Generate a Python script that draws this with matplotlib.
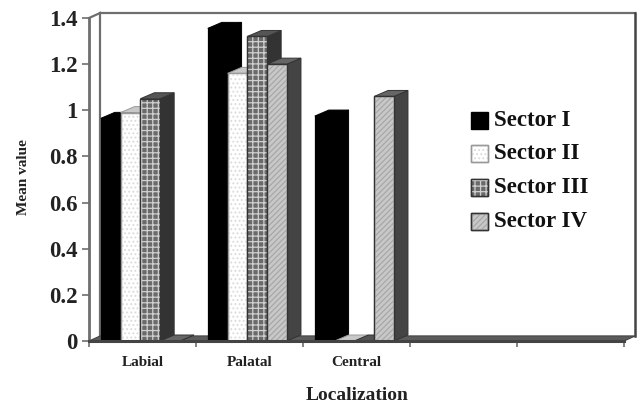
"""
Mean value per localization and sector, drawn as pseudo-3D clustered bars
"""

import matplotlib
matplotlib.use('Agg')
import matplotlib.pyplot as plt
from matplotlib.patches import Polygon, Rectangle

categories = ['Labial', 'Palatal', 'Central', '', '']
sectors = ['Sector I', 'Sector II', 'Sector III', 'Sector IV']
sector_1 = [0.965, 1.355, 0.975, 0, 0]
sector_2 = [0.99, 1.16, 0, 0, 0]
sector_3 = [1.05, 1.32, 0, 0, 0]
sector_4 = [0, 1.20, 1.06, 0, 0]
y_ticks = [0, 0.2, 0.4, 0.6, 0.8, 1, 1.2, 1.4]
y_tick_labels = ['0', '0.2', '0.4', '0.6', '0.8', '1', '1.2', '1.4']

GRAY = '#6e6e6e'
FRONT = ['black', 'white', '#6a6a6a', '#c8c8c8']
SIDE = ['black', '#8c8c8c', '#333333', '#444444']
TOP = ['black', '#c8c8c8', '#555555', '#666666']
HATCH = [None, '....', '+++', '//////']
HATCH_COLOR = ['black', '#dcdcdc', '#d0d0d0', '#a8a8a8']
EDGE = ['black', '#999999', '#333333', '#333333']

# depth of the bars and of the surrounding box, in data units
DX = 0.131
DY = 0.026
WALL_DX = 0.105
WALL_DY = 0.022
BAR_W = 0.185
GROUP_PAD = 0.11


def draw_bar(ax, x, value, i, zorder):
    ax.add_patch(Polygon([(x + BAR_W, 0), (x + BAR_W + DX, DY),
                          (x + BAR_W + DX, value + DY), (x + BAR_W, value)],
                         closed=True, fc=SIDE[i], ec=EDGE[i], lw=0.7, zorder=zorder))
    ax.add_patch(Polygon([(x, value), (x + DX, value + DY),
                          (x + BAR_W + DX, value + DY), (x + BAR_W, value)],
                         closed=True, fc=TOP[i], ec=EDGE[i], lw=0.7, zorder=zorder))
    ax.add_patch(Rectangle((x, 0), BAR_W, value, fc=FRONT[i], ec=EDGE[i], lw=0.9, zorder=zorder))
    if HATCH[i] and value > 0:
        ax.add_patch(Rectangle((x, 0), BAR_W, value, fc='none', ec=HATCH_COLOR[i],
                               hatch=HATCH[i], lw=0, zorder=zorder))
        ax.add_patch(Rectangle((x, 0), BAR_W, value, fc='none', ec=EDGE[i], lw=0.9, zorder=zorder))


plt.rcParams['font.family'] = ['Liberation Serif', 'DejaVu Serif']
plt.rcParams['hatch.linewidth'] = 0.9

fig = plt.figure(figsize=(6.4, 4.09), dpi=100)
# front plane of the chart box
ax = fig.add_axes([89 / 640, 1 - 341 / 409, (624 - 89) / 640, (341 - 18) / 409])
ax.set_xlim(0, 5)
ax.set_ylim(0, 1.4)
for s in ax.spines.values():
    s.set_visible(False)
ax.patch.set_visible(False)

# back wall and filled floor of the box
box = dict(color=GRAY, lw=1.6, clip_on=False, zorder=1)
ax.plot([WALL_DX, WALL_DX], [WALL_DY, 1.4 + WALL_DY], **box)
ax.plot([WALL_DX, 5 + WALL_DX], [1.4 + WALL_DY, 1.4 + WALL_DY], **box)
ax.plot([5 + WALL_DX, 5 + WALL_DX], [WALL_DY, 1.4 + WALL_DY], color='#444444', lw=1.8,
        clip_on=False, zorder=1)
ax.plot([0, WALL_DX], [1.4, 1.4 + WALL_DY], **box)
ax.add_patch(Polygon([(0, 0), (WALL_DX, WALL_DY), (5 + WALL_DX, WALL_DY), (5, 0)], closed=True,
                     fc='#5c5c5c', ec='#444444', lw=0.8, clip_on=False, zorder=2))

series = [sector_1, sector_2, sector_3, sector_4]
for c in range(len(categories)):
    for i, vals in enumerate(series):
        if c >= 3:
            continue
        draw_bar(ax, c + GROUP_PAD + i * BAR_W, vals[c], i, 3 + c * 5 + i)

# front axes on top of the bars
ax.plot([0, 0], [0, 1.4], color=GRAY, lw=2.0, clip_on=False, zorder=30)
ax.plot([0, 5], [0, 0], color='#444444', lw=2.2, clip_on=False, zorder=30)

ax.set_xticks(range(6))
ax.set_xticklabels([])
ax.set_xticks([c + 0.5 for c in range(5)], minor=True)
ax.set_xticklabels(categories, minor=True, fontsize=11, fontweight='bold', color='#222222')
ax.tick_params(axis='x', which='major', length=4, width=1.2, color=GRAY, direction='out')
ax.tick_params(axis='x', which='minor', length=0, pad=11)
ax.set_yticks(y_ticks)
ax.set_yticklabels(y_tick_labels, fontsize=16.5, fontweight='bold', color='#222222')
ax.tick_params(axis='y', length=5, width=1.2, color=GRAY, pad=3)

fig.text(357 / 640, 1 - 396 / 409, 'Localization', fontsize=14, fontweight='bold',
         ha='center', va='center', color='#222222')
fig.text(24 / 640, 1 - 177 / 409, 'Mean value', fontsize=11, fontweight='bold',
         rotation=90, ha='center', va='center', color='#222222')

# legend placed by hand so swatches stay in the right column
legend_ax = fig.add_axes([0, 0, 1, 1])
legend_ax.set_xlim(0, 640)
legend_ax.set_ylim(409, 0)
legend_ax.axis('off')
for i, name in enumerate(sectors):
    y = 120 + i * 33.7
    legend_ax.add_patch(Rectangle((471, y - 8.5), 17, 17, fc=FRONT[i], ec=EDGE[i], lw=1.0))
    if HATCH[i]:
        legend_ax.add_patch(Rectangle((471, y - 8.5), 17, 17, fc='none', ec=HATCH_COLOR[i],
                                      hatch=HATCH[i], lw=0))
        legend_ax.add_patch(Rectangle((471, y - 8.5), 17, 17, fc='none', ec=EDGE[i], lw=1.0))
    legend_ax.text(494, y, name, fontsize=16.5, fontweight='bold', va='center', color='#111111')

fig.savefig('out.png', dpi=100)
